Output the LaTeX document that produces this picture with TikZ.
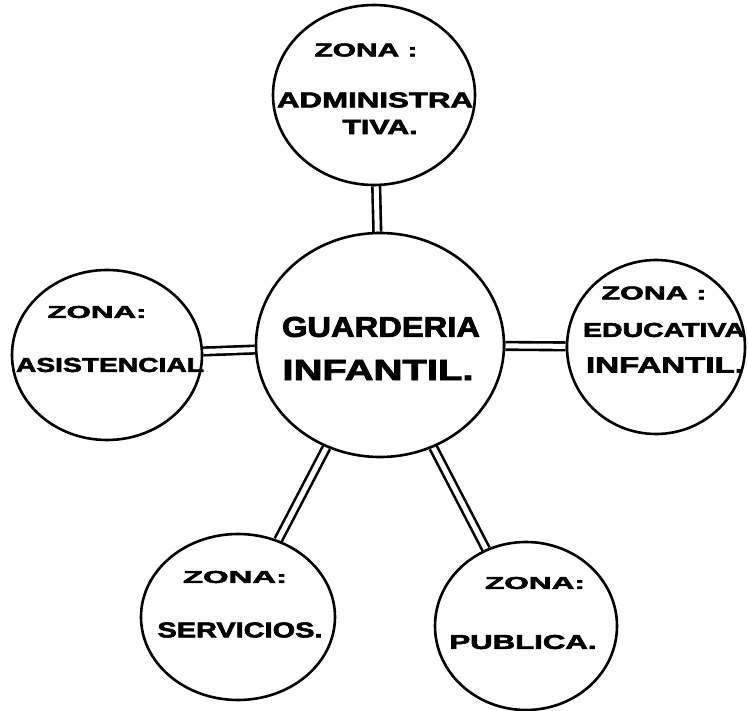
\documentclass[tikz,border=0pt]{standalone}
\usepackage{fontspec}
\setmainfont{Liberation Sans}[BoldFeatures={FakeBold=2.5}]
\usetikzlibrary{shapes.geometric,backgrounds}
\newcommand{\lbl}[3]{\resizebox{#1pt}{#2pt}{\bfseries #3}}
\begin{document}
\begin{tikzpicture}[x=1pt,y=-1pt,
  zone/.style={ellipse,draw=black,line width=2.6pt,inner sep=0pt},
  link/.style={line width=2.6pt,double=white,double distance=5pt},
  txt/.style={inner sep=0pt,anchor=center}]
\useasboundingbox (0,0) rectangle (748,711);
% zones
\node[zone,minimum width=202pt,minimum height=180pt] (adm) at (374,95) {};
\node[zone,minimum width=248pt,minimum height=224pt] (gi) at (380,345) {};
\node[zone,minimum width=190pt,minimum height=170pt] (asi) at (107,355) {};
\node[zone,minimum width=178pt,minimum height=174pt] (edu) at (656,347) {};
\node[zone,minimum width=194pt,minimum height=166pt] (ser) at (238,617) {};
\node[zone,minimum width=182pt,minimum height=168pt] (pub) at (526,626) {};
% connectors
\begin{scope}[on background layer]
\fill[white] (0,0) rectangle (748,711);
\draw[link] (adm) -- (gi);
\draw[link] (asi) -- (gi);
\draw[link] (gi) -- (edu);
\draw[link] (gi) -- (ser);
\draw[link] (gi) -- (pub);
\end{scope}
% texts
\node[txt] (t1) at (366,50) {\lbl{103}{13}{ZONA :}};
\node[txt] (t2) at (375,100) {\lbl{196}{15}{ADMINISTRA}};
\node[txt] (t3) at (380,127) {\lbl{75}{14}{TIVA.}};
\node[txt] (t4) at (381,327) {\lbl{198}{20}{GUARDERIA}};
\node[txt] (t5) at (378,370) {\lbl{191}{20}{INFANTIL.}};
\node[txt] (t6) at (97,312) {\lbl{99}{12}{ZONA:}};
\node[txt] (t7) at (110,365) {\lbl{188}{14}{ASISTENCIAL}};
\node[txt] (t8) at (654,293) {\lbl{105}{13}{ZONA :}};
\node[txt] (t9) at (664,330) {\lbl{162}{14}{EDUCATIVA}};
\node[txt] (t10) at (665,365) {\lbl{158}{15}{INFANTIL.}};
\node[txt] (t11) at (235,577) {\lbl{104}{12}{ZONA:}};
\node[txt] (t12) at (240,630) {\lbl{165}{15}{SERVICIOS.}};
\node[txt] (t13) at (535,583) {\lbl{100}{12}{ZONA:}};
\node[txt] (t14) at (523,642) {\lbl{147}{14}{PUBLICA.}};
\end{tikzpicture}
\end{document}
